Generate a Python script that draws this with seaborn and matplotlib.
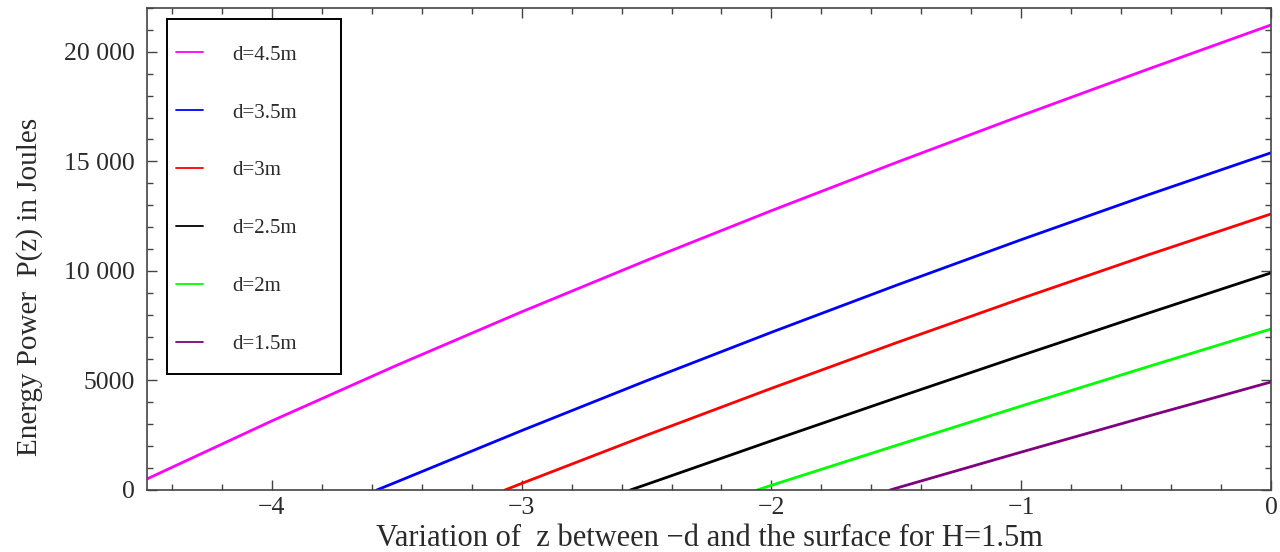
import numpy as np
import pandas as pd
import matplotlib
matplotlib.use("Agg")
import matplotlib.pyplot as plt
from matplotlib.lines import Line2D
from matplotlib.patches import Rectangle
from matplotlib.ticker import MultipleLocator, FixedLocator, FixedFormatter
import seaborn as sns

# Energy power P(z) (Joules) versus depth z, one curve per water depth d
depths = ["d=4.5m", "d=3.5m", "d=3m", "d=2.5m", "d=2m", "d=1.5m"]
colors = ["#ff00ff", "#0000ff", "#ff0000", "#000000", "#00ff00", "#800080"]

z_45 = [-4.5, -4.0, -3.5, -3.0, -2.5, -2.0, -1.5, -1.0, -0.5, 0.0]
p_45 = [505, 3154, 5693, 8132, 10481, 12750, 14949, 17088, 19177, 21226]

z_35 = [-3.58, -3.5, -3.0, -2.5, -2.0, -1.5, -1.0, -0.5, 0.0]
p_35 = [0, 370, 2711, 4987, 7198, 9344, 11425, 13441, 15392]

z_30 = [-3.067, -3.0, -2.5, -2.0, -1.5, -1.0, -0.5, 0.0]
p_30 = [0, 300, 2500, 4640, 6720, 8740, 10700, 12600]

z_25 = [-2.565, -2.5, -2.0, -1.5, -1.0, -0.5, 0.0]
p_25 = [0, 255, 2246, 4207, 6138, 8039, 9910]

z_20 = [-2.057, -2.0, -1.5, -1.0, -0.5, 0.0]
p_20 = [0, 215, 2036, 3832, 5603, 7349]

z_15 = [-1.525, -1.5, -1.0, -0.5, 0.0]
p_15 = [0, 85, 1730, 3345, 4930]

x_ticks = [-4, -3, -2, -1, 0]
x_labels = ["\u22124", "\u22123", "\u22122", "\u22121", "0"]
y_ticks = [0, 5000, 10000, 15000, 20000]
y_labels = ["0", "5000", "10 000", "15 000", "20 000"]

series = [(z_45, p_45), (z_35, p_35), (z_30, p_30), (z_25, p_25), (z_20, p_20), (z_15, p_15)]
df = pd.concat(
    [pd.DataFrame({"z": zs, "P": ps, "depth": name}) for name, (zs, ps) in zip(depths, series)],
    ignore_index=True,
)

sns.set_style("ticks")
plt.rcParams["font.family"] = ["Liberation Serif", "DejaVu Serif"]

frame_col = "#444444"
text_col = "#2a2a2a"

W, H = 1280, 552
fig = plt.figure(figsize=(W / 100, H / 100), dpi=100)
ax_l, ax_r, ax_t, ax_b = 147, 1271, 8, 490
ax = fig.add_axes([ax_l / W, 1 - ax_b / H, (ax_r - ax_l) / W, (ax_b - ax_t) / H])


def ax_x(px):
    return (px - ax_l) / (ax_r - ax_l)


def ax_y(py):
    return 1 - (py - ax_t) / (ax_b - ax_t)


sns.lineplot(
    data=df, x="z", y="P", hue="depth", hue_order=depths,
    palette=dict(zip(depths, colors)), estimator=None, sort=False,
    linewidth=2.0, legend=False, ax=ax,
)

ax.set_xlim(-4.5, 0)
ax.set_ylim(0, 22000)

ax.xaxis.set_major_locator(FixedLocator(x_ticks))
ax.xaxis.set_major_formatter(FixedFormatter(x_labels))
ax.xaxis.set_minor_locator(MultipleLocator(0.2))
ax.yaxis.set_major_locator(FixedLocator(y_ticks))
ax.yaxis.set_major_formatter(FixedFormatter(y_labels))
ax.yaxis.set_minor_locator(MultipleLocator(1000))

ax.tick_params(which="both", direction="in", top=True, right=True,
               color=frame_col, width=1.0, labelcolor=text_col, labelsize=18.5)
ax.tick_params(which="major", length=7)
ax.tick_params(which="minor", length=4)
ax.tick_params(axis="x", which="major", pad=5)
ax.tick_params(axis="y", which="major", pad=9)
for s in ax.spines.values():
    s.set_color(frame_col)
    s.set_linewidth(1.2)

ax.set_xlabel("Variation of  z between \u2212d and the surface for H=1.5m",
              fontsize=22, color=text_col, labelpad=4)
ax.set_ylabel("Energy Power  P(z) in Joules", fontsize=21, color=text_col)
ax.yaxis.set_label_coords(ax_x(43), ax_y(287))

# legend: frame drawn as a box, entries placed inside it
ax.add_patch(Rectangle((ax_x(167), ax_y(374)), ax_x(341) - ax_x(167), ax_y(19) - ax_y(374),
                       transform=ax.transAxes, fill=True, facecolor="white",
                       edgecolor="black", linewidth=1.4, zorder=4))
handles = [Line2D([], [], color=c, lw=1.3) for c in colors]
leg = ax.legend(
    handles, depths, loc="upper left", bbox_to_anchor=(ax_x(176), ax_y(45)),
    fontsize=15, frameon=False,
    handlelength=1.3, handletextpad=1.39, labelspacing=1.84,
    borderpad=0.0, borderaxespad=0.0,
)
leg.set_zorder(5)
for t in leg.get_texts():
    t.set_color(text_col)

fig.savefig("out.png", dpi=100, facecolor="white")
